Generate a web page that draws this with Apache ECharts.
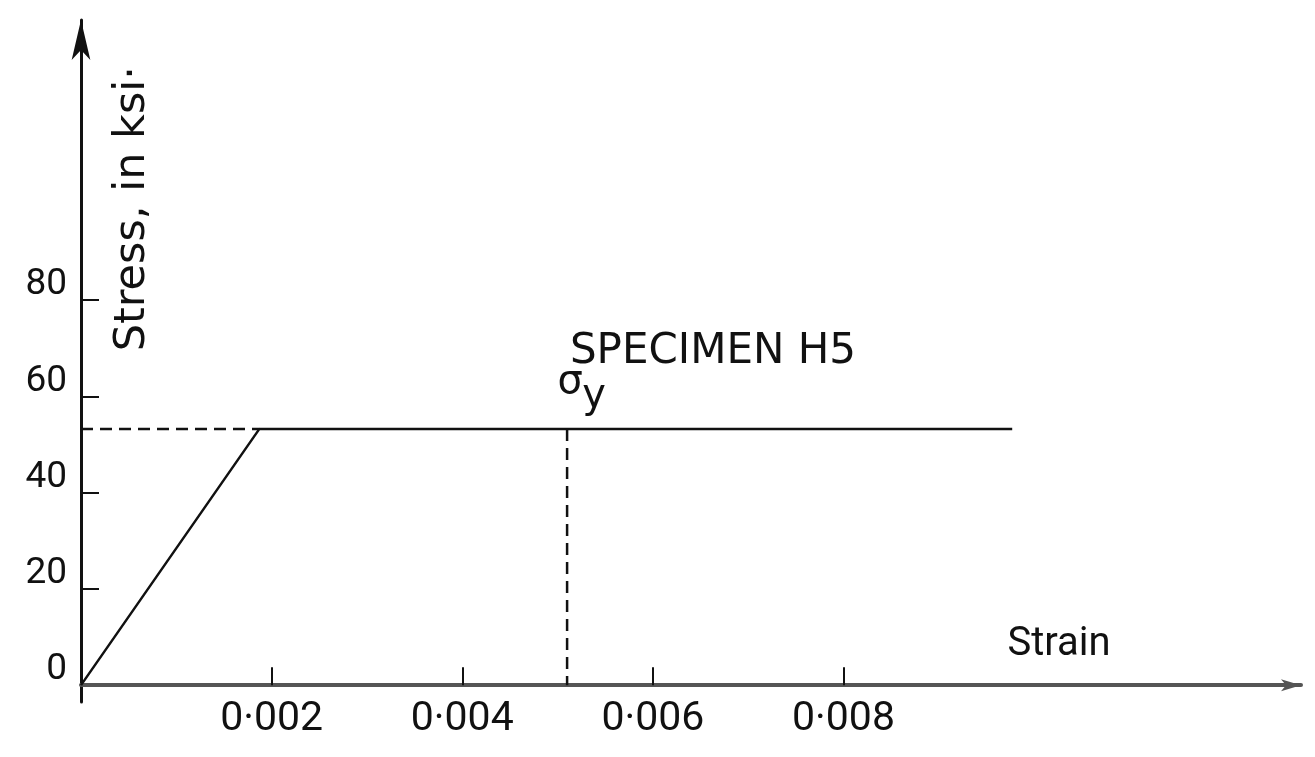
<!DOCTYPE html>
<html>
<head>
<meta charset="utf-8">
<script src="https://cdn.jsdelivr.net/npm/echarts@6/dist/echarts.min.js"></script>
<style>
  html, body { margin: 0; padding: 0; background: #fff; }
  #echarts { width: 1315px; height: 757px; }
</style>
</head>
<body>
<div id="echarts"></div>
<script>
// tick labels
var strainTicks = [0.002, 0.004, 0.006, 0.008];
var stressTicks = [0, 20, 40, 60, 80];
var stressTickMarks = [20, 40, 60, 80];

// stress-strain curve (idealised elastic-plastic)
var curveStrain = [0, 0.00187, 0.00977];
var curveStress = [0, 53.2, 53.2];

// yield point guide lines
var yieldStress = 53.2;
var kneeStrain = 0.00187;
var markStrain = 0.0051;

var font = 'DejaVu Sans';
var numFont = 'Roboto';

var myChart = echarts.init(document.getElementById('echarts'));

var curve = curveStrain.map(function (s, i) { return [s, curveStress[i]]; });
var dashStyle = { color: '#111', width: 2.5, type: [12, 7] };

var option = {
    backgroundColor: '#fff',
    animation: false,
    grid: { left: 81, right: 14, top: 20, bottom: 55 },
    xAxis: {
        type: 'value',
        min: 0,
        max: 0.0128,
        splitLine: { show: false },
        axisLine: {
            onZero: true,
            symbol: ['none', 'arrow'],
            symbolSize: [9, 20],
            lineStyle: { color: '#555', width: 4 }
        },
        axisTick: {
            inside: true,
            length: 18,
            customValues: strainTicks,
            lineStyle: { color: '#111', width: 2 }
        },
        axisLabel: {
            customValues: strainTicks,
            margin: -3,
            fontFamily: numFont,
            fontSize: 41,
            color: '#111',
            formatter: function (v) { return v.toFixed(3).replace('.', '\u00b7'); }
        }
    },
    yAxis: {
        type: 'value',
        min: -3.5,
        max: 138.2,
        splitLine: { show: false },
        axisLine: {
            onZero: false,
            symbol: ['none', 'arrow'],
            symbolSize: [14, 40],
            lineStyle: { color: '#111', width: 3 }
        },
        axisTick: {
            inside: true,
            length: 18,
            customValues: stressTickMarks,
            lineStyle: { color: '#111', width: 2 }
        },
        axisLabel: {
            customValues: stressTicks,
            margin: 14,
            fontFamily: numFont,
            fontSize: 37,
            color: '#111',
            verticalAlign: 'bottom',
            lineHeight: 30
        }
    },
    series: [
        {
            type: 'line',
            data: curve,
            showSymbol: false,
            lineStyle: { color: '#111', width: 2.5 }
        },
        {
            type: 'line',
            data: [[0, yieldStress], [kneeStrain, yieldStress]],
            showSymbol: false,
            lineStyle: dashStyle
        },
        {
            type: 'line',
            data: [[markStrain, yieldStress], [markStrain, 0]],
            showSymbol: false,
            lineStyle: dashStyle
        }
    ]
};
myChart.setOption(option);

// annotations anchored to data coordinates
function px(s, v) { return myChart.convertToPixel({ gridIndex: 0 }, [s, v]); }
var pSpec = px(0.00513, 69.2);
var pSig = px(0.00500, 62.8);
var pSub = px(0.00526, 60.0);
var pStrain = px(0.00972, 8.3);
var pName = px(0.00054, 99);

myChart.setOption({
    graphic: [
        {
            type: 'text', x: pSpec[0], y: pSpec[1],
            style: { text: 'SPECIMEN H5', font: '42px "' + font + '"', fill: '#111', textVerticalAlign: 'middle' }
        },
        {
            type: 'text', x: pSig[0], y: pSig[1],
            style: { text: '\u03c3', font: '40px "' + font + '"', fill: '#111', textVerticalAlign: 'middle' }
        },
        {
            type: 'text', x: pSub[0], y: pSub[1],
            style: { text: 'y', font: '40px "' + font + '"', fill: '#111', textVerticalAlign: 'middle' }
        },
        {
            type: 'text', x: pStrain[0], y: pStrain[1],
            style: { text: 'Strain', font: '40px "' + numFont + '"', fill: '#111', textVerticalAlign: 'middle' }
        },
        {
            type: 'text', x: pName[0], y: pName[1], rotation: Math.PI / 2,
            style: { text: 'Stress, in ksi\u00b7', font: '43px "' + font + '"', fill: '#111', textAlign: 'center', textVerticalAlign: 'middle' }
        }
    ]
});
</script>
</body>
</html>
